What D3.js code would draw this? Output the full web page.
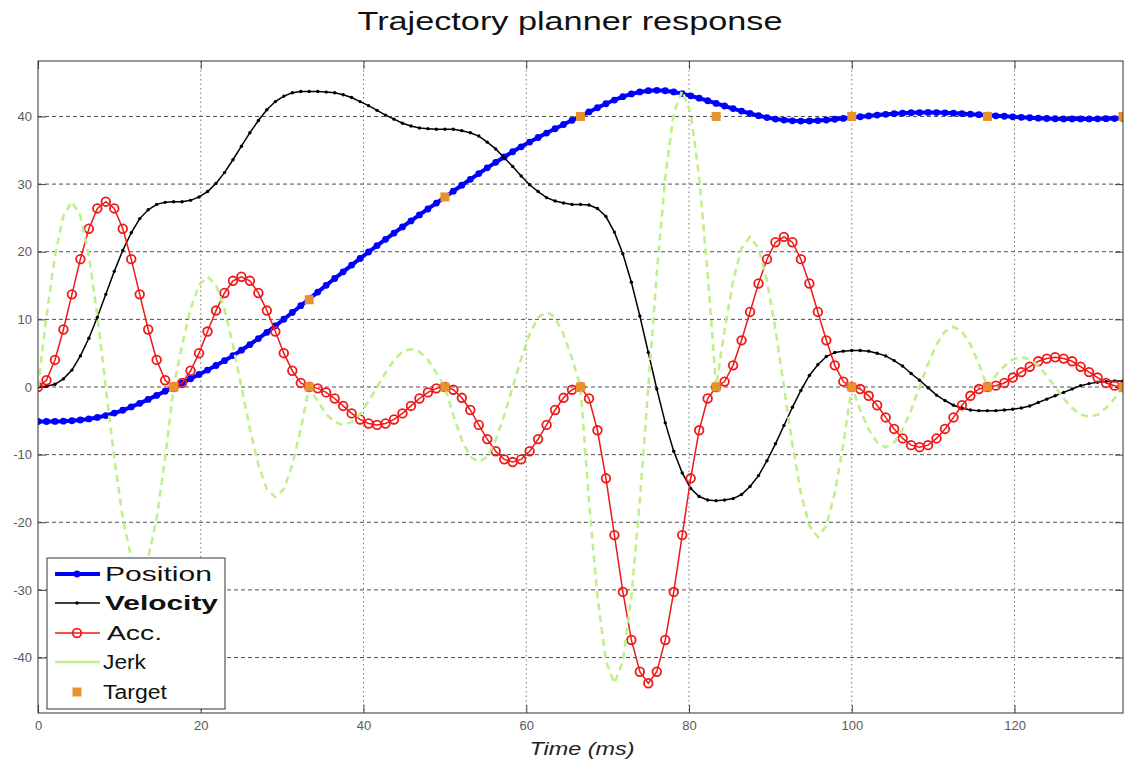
<!DOCTYPE html>
<html>
<head>
<meta charset="utf-8">
<script src="https://cdn.jsdelivr.net/npm/d3@7"></script>
<style>
  body { margin: 0; background: #fff; }
  text { font-family: "Liberation Sans", Arial, sans-serif; }
</style>
</head>
<body>
<div id="chart"></div>
<script>
"use strict"

// sampling step of the planner, ms (128 steps over 133.33 ms)
const dt = 133.33 / 128

const position = [
  -5.10, -5.10, -5.09, -5.06, -4.99, -4.88, -4.72, -4.50, -4.22, -3.86, -3.44, -2.95, -2.41, -1.84, -1.24, -0.63, -0.02,
  0.59, 1.22, 1.85, 2.50, 3.18, 3.89, 4.64, 5.44, 6.28, 7.16, 8.09, 9.04, 10.02, 11.02, 12.02, 13.03,
  14.03, 15.04, 16.04, 17.03, 18.02, 19.00, 19.96, 20.91, 21.84, 22.76, 23.67, 24.56, 25.44, 26.32, 27.20, 28.08,
  28.95, 29.83, 30.70, 31.56, 32.40, 33.22, 34.01, 34.78, 35.51, 36.21, 36.89, 37.55, 38.18, 38.81, 39.43, 40.06,
  40.67, 41.29, 41.88, 42.43, 42.92, 43.33, 43.63, 43.81, 43.86, 43.80, 43.63, 43.37, 43.05, 42.70, 42.32, 41.93,
  41.55, 41.16, 40.79, 40.44, 40.12, 39.84, 39.62, 39.46, 39.36, 39.32, 39.33, 39.39, 39.48, 39.59, 39.71, 39.83,
  39.96, 40.08, 40.20, 40.31, 40.41, 40.49, 40.55, 40.58, 40.59, 40.58, 40.54, 40.49, 40.42, 40.34, 40.27, 40.19,
  40.10, 40.03, 39.95, 39.87, 39.81, 39.75, 39.70, 39.66, 39.64, 39.63, 39.63, 39.63, 39.65, 39.67, 39.69, 39.71
]

const velocity = [
  0, 0.1, 0.4, 1.2, 2.5, 4.6, 7.2, 10.3, 13.7, 17.1, 20.2, 22.8, 24.9, 26.2, 27.0, 27.3, 27.4,
  27.4, 27.6, 28.1, 28.9, 30.1, 31.7, 33.6, 35.6, 37.6, 39.4, 41.0, 42.2, 43.0, 43.5, 43.7, 43.7,
  43.7, 43.6, 43.5, 43.2, 42.8, 42.2, 41.6, 40.9, 40.2, 39.6, 39.0, 38.6, 38.3, 38.2, 38.1, 38.1,
  38.1, 37.9, 37.6, 37.1, 36.2, 35.2, 33.9, 32.6, 31.2, 29.9, 28.9, 28.0, 27.5, 27.2, 27.0, 27.0,
  26.9, 26.4, 25.2, 22.9, 19.7, 15.5, 10.5, 5.1, -0.3, -5.3, -9.5, -12.7, -15.0, -16.2, -16.7, -16.8,
  -16.7, -16.5, -15.9, -14.7, -13.1, -10.9, -8.4, -5.7, -3.0, -0.5, 1.7, 3.3, 4.5, 5.1, 5.3, 5.4,
  5.4, 5.3, 5.0, 4.6, 3.9, 3.1, 2.0, 1.0, -0.1, -1.2, -2.0, -2.7, -3.1, -3.4, -3.5, -3.5,
  -3.5, -3.4, -3.3, -3.1, -2.8, -2.3, -1.8, -1.3, -0.8, -0.3, 0.2, 0.5, 0.7, 0.8, 0.9, 0.9
]

const acceleration = [
  0, 1.0, 4.0, 8.5, 13.7, 18.9, 23.4, 26.4, 27.4, 26.4, 23.4, 18.9, 13.7, 8.5, 4.0, 1.0,
  0, 0.6, 2.4, 5.0, 8.2, 11.3, 13.9, 15.7, 16.3, 15.7, 13.9, 11.3, 8.2, 5.0, 2.4, 0.6,
  0, -0.2, -0.8, -1.7, -2.8, -3.9, -4.8, -5.4, -5.6, -5.4, -4.8, -3.9, -2.8, -1.7, -0.8, -0.2,
  0, -0.4, -1.6, -3.4, -5.6, -7.7, -9.5, -10.7, -11.1, -10.7, -9.5, -7.7, -5.6, -3.4, -1.6, -0.4,
  0, -1.7, -6.4, -13.5, -21.9, -30.3, -37.4, -42.1, -43.8, -42.1, -37.4, -30.3, -21.9, -13.5, -6.4, -1.7,
  0, 0.8, 3.2, 6.9, 11.1, 15.3, 18.9, 21.4, 22.2, 21.4, 18.9, 15.3, 11.1, 6.9, 3.2, 0.8,
  0, -0.3, -1.3, -2.7, -4.5, -6.2, -7.6, -8.6, -8.9, -8.6, -7.6, -6.2, -4.5, -2.7, -1.3, -0.3,
  0, 0.2, 0.6, 1.4, 2.2, 3.0, 3.8, 4.2, 4.4, 4.2, 3.8, 3.0, 2.2, 1.4, 0.6, 0.2,
  0
]

const jerk = [
  0, 10.5, 19.4, 25.3, 27.4, 25.3, 19.4, 10.5, 0, -10.5, -19.4, -25.3, -27.4, -25.3, -19.4, -10.5,
  0, 6.2, 11.5, 15.1, 16.3, 15.1, 11.5, 6.2, 0, -6.2, -11.5, -15.1, -16.3, -15.1, -11.5, -6.2,
  0, -2.1, -4.0, -5.2, -5.6, -5.2, -4.0, -2.1, 0, 2.1, 4.0, 5.2, 5.6, 5.2, 4.0, 2.1,
  0, -4.2, -7.8, -10.3, -11.1, -10.3, -7.8, -4.2, 0, 4.2, 7.8, 10.3, 11.1, 10.3, 7.8, 4.2,
  0, -16.8, -31.0, -40.5, -43.8, -40.5, -31.0, -16.8, 0, 16.8, 31.0, 40.5, 43.8, 40.5, 31.0, 16.8,
  0, 8.5, 15.7, 20.5, 22.2, 20.5, 15.7, 8.5, 0, -8.5, -15.7, -20.5, -22.2, -20.5, -15.7, -8.5,
  0, -3.4, -6.3, -8.2, -8.9, -8.2, -6.3, -3.4, 0, 3.4, 6.3, 8.2, 8.9, 8.2, 6.3, 3.4,
  0, 1.7, 3.1, 4.1, 4.4, 4.1, 3.1, 1.7, 0, -1.7, -3.1, -4.1, -4.4, -4.1, -3.1, -1.7,
  0
]

const targetTime = [16.67, 33.33, 50, 66.67, 83.33, 100, 116.67, 133.33]
const targetPos = [0, 12.9, 28.1, 40, 40, 40, 40, 40]
const targetAcc = [0, 0, 0, 0, 0, 0, 0, 0]

const xTicks = [0, 20, 40, 60, 80, 100, 120]
const yTicks = [-40, -30, -20, -10, 0, 10, 20, 30, 40]

const time = position.map((d, i) => i * dt)

// set the dimensions and margins of the graph
const margin = {top: 61, right: 1, bottom: 51, left: 38},
      width = 1124 - margin.left - margin.right,
      height = 764 - margin.top - margin.bottom

const root = d3.select("#chart")
  .append("svg")
  .attr("width", 1124)
  .attr("height", 764)

root.append("rect")
  .attr("width", 1124).attr("height", 764).attr("fill", "#fff")

root.append("text")
  .attr("x", 570).attr("y", 30)
  .attr("text-anchor", "middle")
  .attr("font-size", 25)
  .attr("textLength", 425)
  .attr("lengthAdjust", "spacingAndGlyphs")
  .attr("fill", "#111")
  .text("Trajectory planner response")

root.append("text")
  .attr("x", 582).attr("y", 755)
  .attr("text-anchor", "middle")
  .attr("font-size", 19)
  .attr("font-style", "italic")
  .attr("textLength", 105)
  .attr("lengthAdjust", "spacingAndGlyphs")
  .attr("fill", "#222")
  .text("Time (ms)")

const svg = root.append("g")
  .attr("transform", "translate(" + margin.left + "," + margin.top + ")")

const x = d3.scaleLinear()
  .domain([0, 133.33])
  .range([0, width])

const y = d3.scaleLinear()
  .domain([-48.2, 48.2])
  .range([height, 0])

// grid
svg.append("g")
  .selectAll("line")
  .data(yTicks)
  .join("line")
    .attr("x1", 0).attr("x2", width)
    .attr("y1", d => y(d)).attr("y2", d => y(d))
    .attr("stroke", "#222")
    .attr("stroke-width", 0.8)
    .attr("stroke-dasharray", "4,3")

svg.append("g")
  .selectAll("line")
  .data(xTicks.filter(d => d > 0))
  .join("line")
    .attr("x1", d => x(d)).attr("x2", d => x(d))
    .attr("y1", 0).attr("y2", height)
    .attr("stroke", "#777")
    .attr("stroke-width", 1)
    .attr("stroke-dasharray", "1.5,3")

// axes, ticks pointing inward
const styleAxis = g => {
  g.select(".domain").remove()
  g.selectAll(".tick line").attr("stroke", "#444")
  g.selectAll(".tick text")
    .attr("fill", "#5a5a5a")
    .attr("font-size", 13)
    .attr("font-family", "Liberation Sans, Arial, sans-serif")
}

svg.append("g")
  .attr("transform", "translate(0," + height + ")")
  .call(d3.axisBottom(x).tickValues(xTicks).tickSize(-8).tickPadding(8).tickFormat(d => String(d)))
  .call(styleAxis)

svg.append("g")
  .call(d3.axisLeft(y).tickValues(yTicks).tickSize(-8).tickPadding(6).tickFormat(d => String(d)))
  .call(styleAxis)

svg.append("g")
  .call(d3.axisTop(x).tickValues(xTicks).tickSize(-8).tickFormat(""))
  .call(styleAxis)

svg.append("g")
  .attr("transform", "translate(" + width + ",0)")
  .call(d3.axisRight(y).tickValues(yTicks).tickSize(-8).tickFormat(""))
  .call(styleAxis)

svg.append("clipPath").attr("id", "clip")
  .append("rect").attr("width", width).attr("height", height)

const plot = svg.append("g").attr("clip-path", "url(#clip)")

const line = d3.line()
  .x(i => x(time[i]))

const idx = d3.range(time.length)

// Position
plot.append("path")
  .datum(idx)
  .attr("fill", "none")
  .attr("stroke", "#0000ff")
  .attr("stroke-width", 4)
  .attr("d", line.y(i => y(position[i])))
plot.append("g")
  .selectAll("circle")
  .data(idx)
  .join("circle")
    .attr("cx", i => x(time[i]))
    .attr("cy", i => y(position[i]))
    .attr("r", 3.4)
    .attr("fill", "#0000ff")

// Velocity
plot.append("path")
  .datum(idx)
  .attr("fill", "none")
  .attr("stroke", "#000")
  .attr("stroke-width", 1.5)
  .attr("d", line.y(i => y(velocity[i])))
plot.append("g")
  .selectAll("circle")
  .data(idx)
  .join("circle")
    .attr("cx", i => x(time[i]))
    .attr("cy", i => y(velocity[i]))
    .attr("r", 1.7)
    .attr("fill", "#000")

// Acc.
plot.append("path")
  .datum(idx)
  .attr("fill", "none")
  .attr("stroke", "#f01818")
  .attr("stroke-width", 1.5)
  .attr("d", line.y(i => y(acceleration[i])))
plot.append("g")
  .selectAll("circle")
  .data(idx)
  .join("circle")
    .attr("cx", i => x(time[i]))
    .attr("cy", i => y(acceleration[i]))
    .attr("r", 4.3)
    .attr("fill", "none")
    .attr("stroke", "#f01818")
    .attr("stroke-width", 1.8)

// Jerk
plot.append("path")
  .datum(idx)
  .attr("fill", "none")
  .attr("stroke", "#bff08a")
  .attr("stroke-width", 2.6)
  .attr("stroke-dasharray", "7,5")
  .attr("d", line.y(i => y(jerk[i])))

// Target
const tIdx = d3.range(targetTime.length)
plot.append("g")
  .selectAll("rect")
  .data(tIdx.map(i => [targetTime[i], targetAcc[i]]).concat(tIdx.map(i => [targetTime[i], targetPos[i]])))
  .join("rect")
    .attr("x", d => x(d[0]) - 4.5)
    .attr("y", d => y(d[1]) - 4.5)
    .attr("width", 9).attr("height", 9)
    .attr("fill", "#e8922e")

// frame
svg.append("rect")
  .attr("width", width).attr("height", height)
  .attr("fill", "none")
  .attr("stroke", "#333")
  .attr("stroke-width", 1)

// legend
const legendNames = ["Position", "Velocity", "Acc.", "Jerk", "Target"]
const legendY = [574, 603, 633, 662, 692]
const legendTextX = [105, 105, 107, 103, 103]
const legendTextLen = [107, 113, 55, 43, 64]

const leg = root.append("g")
leg.append("rect")
  .attr("x", 47).attr("y", 558)
  .attr("width", 178).attr("height", 151)
  .attr("fill", "#fff")
  .attr("stroke", "#333")

leg.append("line").attr("x1", 55).attr("x2", 100).attr("y1", legendY[0]).attr("y2", legendY[0])
  .attr("stroke", "#0000ff").attr("stroke-width", 4)
leg.append("circle").attr("cx", 77).attr("cy", legendY[0]).attr("r", 3.4).attr("fill", "#0000ff")
leg.append("line").attr("x1", 55).attr("x2", 100).attr("y1", legendY[1]).attr("y2", legendY[1])
  .attr("stroke", "#000").attr("stroke-width", 1.5)
leg.append("circle").attr("cx", 77).attr("cy", legendY[1]).attr("r", 1.7).attr("fill", "#000")
leg.append("line").attr("x1", 55).attr("x2", 100).attr("y1", legendY[2]).attr("y2", legendY[2])
  .attr("stroke", "#f01818").attr("stroke-width", 1.5)
leg.append("circle").attr("cx", 77).attr("cy", legendY[2]).attr("r", 4.3)
  .attr("fill", "none").attr("stroke", "#f01818").attr("stroke-width", 1.8)
leg.append("line").attr("x1", 55).attr("x2", 100).attr("y1", legendY[3]).attr("y2", legendY[3])
  .attr("stroke", "#bff08a").attr("stroke-width", 2.6)
leg.append("rect").attr("x", 72.5).attr("y", legendY[4] - 4.5)
  .attr("width", 9).attr("height", 9).attr("fill", "#e8922e")

leg.selectAll("text.lbl")
  .data(legendNames)
  .join("text")
    .attr("class", "lbl")
    .attr("x", (d, i) => legendTextX[i])
    .attr("y", (d, i) => legendY[i] + 7)
    .attr("font-size", 20)
    .attr("font-weight", (d, i) => i === 1 ? "bold" : "normal")
    .attr("textLength", (d, i) => legendTextLen[i])
    .attr("lengthAdjust", "spacingAndGlyphs")
    .attr("fill", "#111")
    .text(d => d)
</script>
</body>
</html>
